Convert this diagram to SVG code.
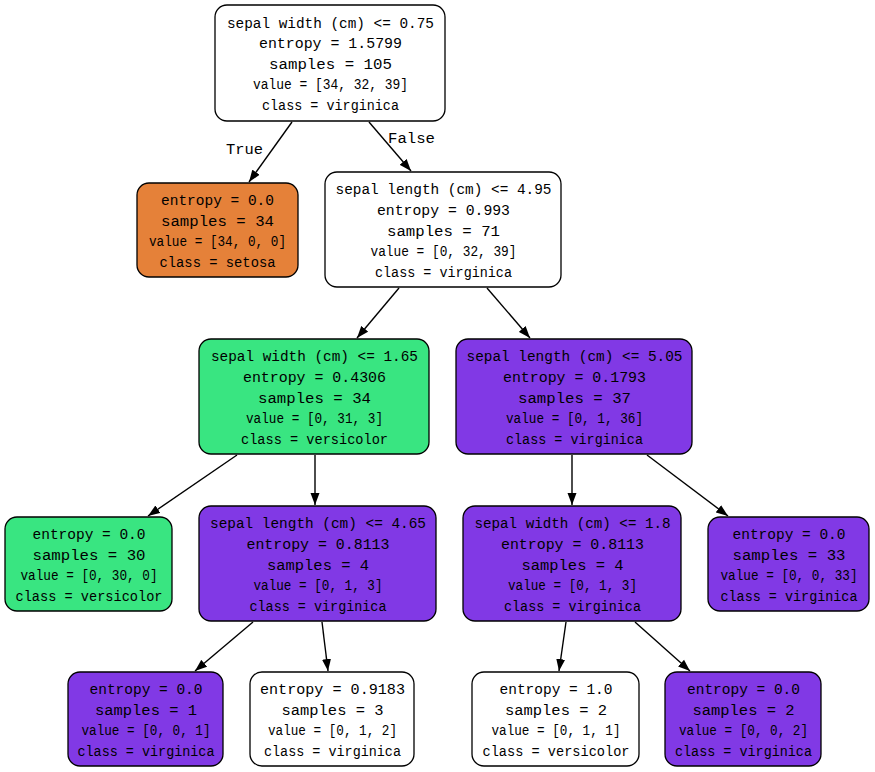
<svg xmlns="http://www.w3.org/2000/svg" width="875" height="772" viewBox="0 0 875 772">
<defs>
<style>
rect{stroke:#000;stroke-width:1.3}
.w{fill:#fff}.o{fill:#e58139}.g{fill:#39e581}.p{fill:#8139e5}
text{font-family:"Liberation Mono","Courier New",monospace;font-size:14.5px;text-anchor:middle;fill:#000}
text.v{font-size:14px}
#edges line{stroke:#000;stroke-width:1.4;marker-end:url(#ah)}
</style>
<marker id="ah" viewBox="0 0 12 10" refX="12" refY="5" markerWidth="12" markerHeight="10" markerUnits="userSpaceOnUse" orient="auto">
<path d="M0,0.5 L12,5 L0,9.5 z" fill="#000"/>
</marker>
</defs>
<rect width="875" height="772" fill="#fff" style="stroke:none"/>
<g id="edges">
<line x1="292" y1="122" x2="249" y2="182"/>
<line x1="369" y1="122" x2="411" y2="171"/>
<line x1="399" y1="288" x2="357" y2="338"/>
<line x1="487" y1="288" x2="530" y2="338"/>
<line x1="237" y1="455" x2="148" y2="516"/>
<line x1="315" y1="455" x2="315" y2="505"/>
<line x1="572" y1="455" x2="572" y2="505"/>
<line x1="647" y1="455" x2="728" y2="516"/>
<line x1="253" y1="622" x2="195" y2="671"/>
<line x1="322" y1="622" x2="328" y2="671"/>
<line x1="566" y1="622" x2="559" y2="671"/>
<line x1="635" y1="622" x2="690" y2="671"/>
<text x="244.5" y="154" textLength="37" lengthAdjust="spacingAndGlyphs">True</text>
<text x="411.5" y="143" textLength="47" lengthAdjust="spacingAndGlyphs">False</text>
</g>
<g id="n0"><rect class="w" x="215" y="5" width="230" height="116" rx="12"/>
<text x="330.5" y="27.5" textLength="207" lengthAdjust="spacingAndGlyphs">sepal width (cm) &lt;= 0.75</text><text x="330.5" y="48" textLength="143" lengthAdjust="spacingAndGlyphs">entropy = 1.5799</text><text x="330.5" y="68.5" textLength="123" lengthAdjust="spacingAndGlyphs">samples = 105</text><text class="v" x="330.5" y="89" textLength="155" lengthAdjust="spacingAndGlyphs">value = [34, 32, 39]</text><text x="330.5" y="110" textLength="137" lengthAdjust="spacingAndGlyphs">class = virginica</text></g>
<g id="n1"><rect class="o" x="137" y="183" width="161" height="94" rx="12"/>
<text x="217.5" y="205" textLength="113" lengthAdjust="spacingAndGlyphs">entropy = 0.0</text><text x="217.5" y="225.5" textLength="113" lengthAdjust="spacingAndGlyphs">samples = 34</text><text class="v" x="217.5" y="246" textLength="137" lengthAdjust="spacingAndGlyphs">value = [34, 0, 0]</text><text x="217.5" y="267" textLength="116" lengthAdjust="spacingAndGlyphs">class = setosa</text></g>
<g id="n2"><rect class="w" x="325" y="172" width="236" height="115" rx="12"/>
<text x="443.5" y="194" textLength="216" lengthAdjust="spacingAndGlyphs">sepal length (cm) &lt;= 4.95</text><text x="443.5" y="215" textLength="133" lengthAdjust="spacingAndGlyphs">entropy = 0.993</text><text x="443.5" y="235.5" textLength="113" lengthAdjust="spacingAndGlyphs">samples = 71</text><text class="v" x="443.5" y="256" textLength="146" lengthAdjust="spacingAndGlyphs">value = [0, 32, 39]</text><text x="443.5" y="277" textLength="137" lengthAdjust="spacingAndGlyphs">class = virginica</text></g>
<g id="n3"><rect class="g" x="199" y="339" width="230" height="115" rx="12"/>
<text x="314.5" y="361" textLength="207" lengthAdjust="spacingAndGlyphs">sepal width (cm) &lt;= 1.65</text><text x="314.5" y="382" textLength="143" lengthAdjust="spacingAndGlyphs">entropy = 0.4306</text><text x="314.5" y="402.5" textLength="113" lengthAdjust="spacingAndGlyphs">samples = 34</text><text class="v" x="314.5" y="423" textLength="137" lengthAdjust="spacingAndGlyphs">value = [0, 31, 3]</text><text x="314.5" y="444" textLength="147" lengthAdjust="spacingAndGlyphs">class = versicolor</text></g>
<g id="n4"><rect class="p" x="456" y="339" width="236" height="115" rx="12"/>
<text x="574.5" y="361" textLength="216" lengthAdjust="spacingAndGlyphs">sepal length (cm) &lt;= 5.05</text><text x="574.5" y="382" textLength="143" lengthAdjust="spacingAndGlyphs">entropy = 0.1793</text><text x="574.5" y="402.5" textLength="113" lengthAdjust="spacingAndGlyphs">samples = 37</text><text class="v" x="574.5" y="423" textLength="137" lengthAdjust="spacingAndGlyphs">value = [0, 1, 36]</text><text x="574.5" y="444" textLength="137" lengthAdjust="spacingAndGlyphs">class = virginica</text></g>
<g id="n5"><rect class="g" x="5" y="517" width="167" height="94" rx="12"/>
<text x="89" y="539" textLength="113" lengthAdjust="spacingAndGlyphs">entropy = 0.0</text><text x="89" y="559.5" textLength="113" lengthAdjust="spacingAndGlyphs">samples = 30</text><text class="v" x="89" y="580" textLength="137" lengthAdjust="spacingAndGlyphs">value = [0, 30, 0]</text><text x="89" y="601" textLength="147" lengthAdjust="spacingAndGlyphs">class = versicolor</text></g>
<g id="n6"><rect class="p" x="199" y="506" width="237" height="115" rx="12"/>
<text x="318" y="528" textLength="216" lengthAdjust="spacingAndGlyphs">sepal length (cm) &lt;= 4.65</text><text x="318" y="549" textLength="143" lengthAdjust="spacingAndGlyphs">entropy = 0.8113</text><text x="318" y="569.5" textLength="102" lengthAdjust="spacingAndGlyphs">samples = 4</text><text class="v" x="318" y="590" textLength="129" lengthAdjust="spacingAndGlyphs">value = [0, 1, 3]</text><text x="318" y="611" textLength="137" lengthAdjust="spacingAndGlyphs">class = virginica</text></g>
<g id="n7"><rect class="p" x="463" y="506" width="218" height="115" rx="12"/>
<text x="572.5" y="528" textLength="196" lengthAdjust="spacingAndGlyphs">sepal width (cm) &lt;= 1.8</text><text x="572.5" y="549" textLength="143" lengthAdjust="spacingAndGlyphs">entropy = 0.8113</text><text x="572.5" y="569.5" textLength="102" lengthAdjust="spacingAndGlyphs">samples = 4</text><text class="v" x="572.5" y="590" textLength="129" lengthAdjust="spacingAndGlyphs">value = [0, 1, 3]</text><text x="572.5" y="611" textLength="137" lengthAdjust="spacingAndGlyphs">class = virginica</text></g>
<g id="n8"><rect class="p" x="708" y="517" width="161" height="94" rx="12"/>
<text x="789" y="539" textLength="113" lengthAdjust="spacingAndGlyphs">entropy = 0.0</text><text x="789" y="559.5" textLength="113" lengthAdjust="spacingAndGlyphs">samples = 33</text><text class="v" x="789" y="580" textLength="137" lengthAdjust="spacingAndGlyphs">value = [0, 0, 33]</text><text x="789" y="601" textLength="137" lengthAdjust="spacingAndGlyphs">class = virginica</text></g>
<g id="n9"><rect class="p" x="68" y="672" width="155" height="94" rx="12"/>
<text x="146" y="694" textLength="113" lengthAdjust="spacingAndGlyphs">entropy = 0.0</text><text x="146" y="714.5" textLength="102" lengthAdjust="spacingAndGlyphs">samples = 1</text><text class="v" x="146" y="735" textLength="129" lengthAdjust="spacingAndGlyphs">value = [0, 0, 1]</text><text x="146" y="756" textLength="137" lengthAdjust="spacingAndGlyphs">class = virginica</text></g>
<g id="n10"><rect class="w" x="250" y="672" width="164" height="94" rx="12"/>
<text x="332.5" y="694" textLength="145" lengthAdjust="spacingAndGlyphs">entropy = 0.9183</text><text x="332.5" y="714.5" textLength="102" lengthAdjust="spacingAndGlyphs">samples = 3</text><text class="v" x="332.5" y="735" textLength="129" lengthAdjust="spacingAndGlyphs">value = [0, 1, 2]</text><text x="332.5" y="756" textLength="137" lengthAdjust="spacingAndGlyphs">class = virginica</text></g>
<g id="n11"><rect class="w" x="472" y="672" width="167" height="94" rx="12"/>
<text x="556" y="694" textLength="113" lengthAdjust="spacingAndGlyphs">entropy = 1.0</text><text x="556" y="714.5" textLength="102" lengthAdjust="spacingAndGlyphs">samples = 2</text><text class="v" x="556" y="735" textLength="129" lengthAdjust="spacingAndGlyphs">value = [0, 1, 1]</text><text x="556" y="756" textLength="147" lengthAdjust="spacingAndGlyphs">class = versicolor</text></g>
<g id="n12"><rect class="p" x="665" y="672" width="156" height="94" rx="12"/>
<text x="743.5" y="694" textLength="113" lengthAdjust="spacingAndGlyphs">entropy = 0.0</text><text x="743.5" y="714.5" textLength="102" lengthAdjust="spacingAndGlyphs">samples = 2</text><text class="v" x="743.5" y="735" textLength="129" lengthAdjust="spacingAndGlyphs">value = [0, 0, 2]</text><text x="743.5" y="756" textLength="137" lengthAdjust="spacingAndGlyphs">class = virginica</text></g>
</svg>
